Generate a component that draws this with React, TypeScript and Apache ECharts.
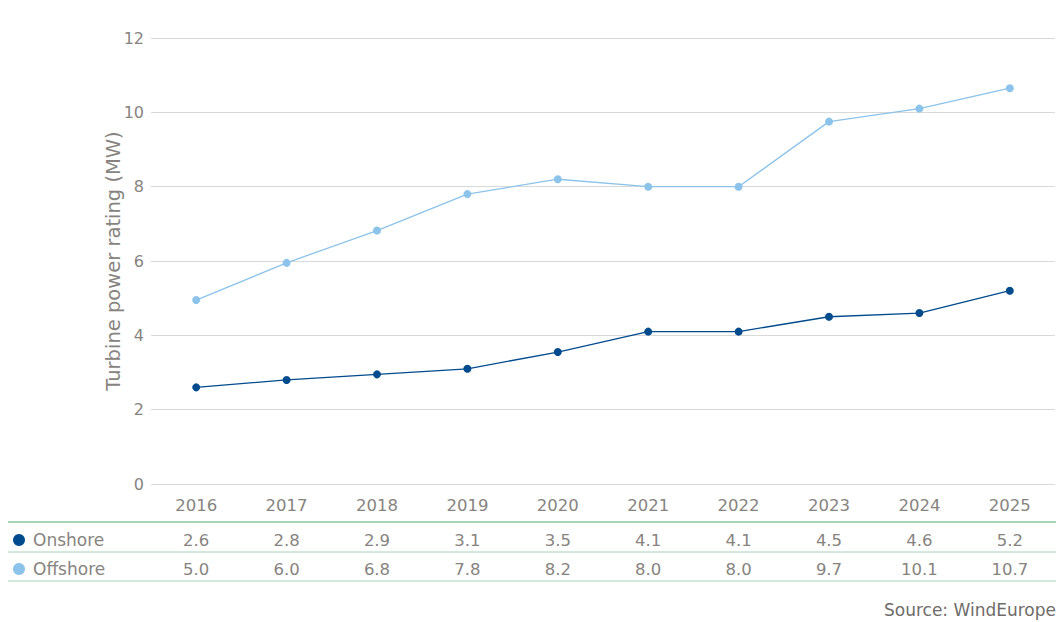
import React, { useEffect, useRef } from "react";
import * as echarts from "echarts";

const years = ["2016", "2017", "2018", "2019", "2020", "2021", "2022", "2023", "2024", "2025"];
const onshore = [2.6, 2.8, 2.95, 3.1, 3.55, 4.1, 4.1, 4.5, 4.6, 5.2];
const offshore = [4.95, 5.95, 6.82, 7.8, 8.2, 8.0, 8.0, 9.75, 10.1, 10.65];
const onshoreLabels = ["2.6", "2.8", "2.9", "3.1", "3.5", "4.1", "4.1", "4.5", "4.6", "5.2"];
const offshoreLabels = ["5.0", "6.0", "6.8", "7.8", "8.2", "8.0", "8.0", "9.7", "10.1", "10.7"];
const seriesNames = ["Onshore", "Offshore"];
const yTicks = { min: 0, max: 12, interval: 2 };

const ON_COLOR = "#004b8d";
const OFF_COLOR = "#8cc3ea";
const TEXT = "#878480";
const FONT = "DejaVu Sans";
const FS = 16.5;
const GREEN = "#a6d3b6";

export default function App() {
  const ref = useRef<HTMLDivElement>(null);
  useEffect(() => {
    document.body.style.margin = "0";
    const chart = echarts.init(ref.current!, undefined, { renderer: "svg" });
    const hiddenAxis = {
      axisLine: { show: false },
      axisTick: { show: false },
      splitLine: { show: false },
    };
    const label = { color: TEXT, fontFamily: FONT, fontSize: FS, margin: 13 };
    chart.setOption({
      animation: false,
      grid: { left: 151, right: 7, top: 38, bottom: 138, containLabel: false },
      xAxis: [
        { type: "category", data: years, ...hiddenAxis, axisLabel: label },
        { type: "category", data: onshoreLabels, position: "bottom", offset: 35, ...hiddenAxis, axisLabel: label },
        { type: "category", data: offshoreLabels, position: "bottom", offset: 64, ...hiddenAxis, axisLabel: label },
      ],
      yAxis: {
        type: "value",
        min: yTicks.min,
        max: yTicks.max,
        interval: yTicks.interval,
        name: "Turbine power rating (MW)",
        nameLocation: "middle",
        nameGap: 28,
        nameMoveOverlap: false,
        nameTextStyle: { color: TEXT, fontFamily: FONT, fontSize: 19.5 },
        axisLine: { show: false },
        axisTick: { show: false },
        axisLabel: { color: TEXT, fontFamily: FONT, fontSize: 16, margin: 7 },
        splitLine: { lineStyle: { color: "#d9d9d9", width: 1 } },
      },
      series: [
        {
          name: seriesNames[0],
          type: "line",
          data: onshore,
          symbol: "circle",
          symbolSize: 8,
          itemStyle: { color: ON_COLOR },
          lineStyle: { color: ON_COLOR, width: 1.3 },
        },
        {
          name: seriesNames[1],
          type: "line",
          data: offshore,
          symbol: "circle",
          symbolSize: 8,
          itemStyle: { color: OFF_COLOR },
          lineStyle: { color: OFF_COLOR, width: 1.3 },
        },
      ],
      graphic: [
        { type: "line", shape: { x1: 8, y1: 522, x2: 1056, y2: 522 }, style: { stroke: GREEN, lineWidth: 2 } },
        { type: "line", shape: { x1: 8, y1: 552, x2: 1056, y2: 552 }, style: { stroke: GREEN, lineWidth: 1 } },
        { type: "line", shape: { x1: 8, y1: 581, x2: 1056, y2: 581 }, style: { stroke: GREEN, lineWidth: 1 } },
        { type: "circle", shape: { cx: 19, cy: 540, r: 6 }, style: { fill: ON_COLOR } },
        { type: "circle", shape: { cx: 19, cy: 569, r: 6 }, style: { fill: OFF_COLOR } },
        {
          type: "text",
          x: 33,
          y: 540,
          style: { text: seriesNames[0], fill: TEXT, font: `17px ${FONT}`, verticalAlign: "middle" },
        },
        {
          type: "text",
          x: 33,
          y: 569,
          style: { text: seriesNames[1], fill: TEXT, font: `17px ${FONT}`, verticalAlign: "middle" },
        },
        {
          type: "text",
          x: 1056,
          y: 610,
          style: {
            text: "Source: WindEurope",
            fill: "#6f6c69",
            font: `17px ${FONT}`,
            align: "right",
            verticalAlign: "middle",
          },
        },
      ],
    });
    return () => chart.dispose();
  }, []);
  return <div ref={ref} style={{ width: 1062, height: 622 }} />;
}
